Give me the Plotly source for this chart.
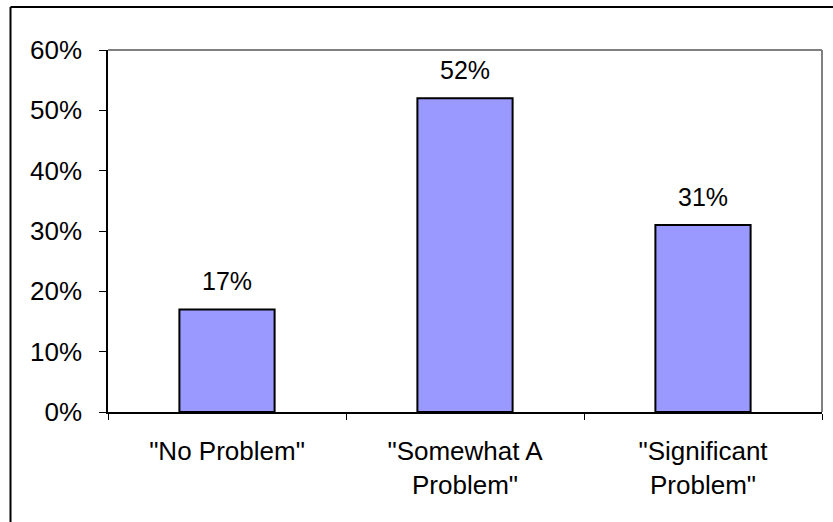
import plotly.graph_objects as go

categories = ['"No Problem"', '"Somewhat A<br>Problem"', '"Significant<br>Problem"']
values = [17, 52, 31]
y_ticks = [0, 10, 20, 30, 40, 50, 60]
y_tick_labels = ["0%", "10%", "20%", "30%", "40%", "50%", "60%"]

FONT = "Liberation Sans, Arial, sans-serif"
W, H = 833, 522
L, R, T, B = 108, 11, 50, 110
FS = 26

fig = go.Figure(
    go.Bar(
        x=categories,
        y=values,
        width=0.4,
        marker=dict(color="#9999FF", line=dict(color="#000000", width=2)),
        hoverinfo="skip",
    )
)

# value labels above each bar
for c, v in zip(categories, values):
    fig.add_annotation(
        x=c, y=v, text=f"{v}%", showarrow=False,
        yanchor="bottom", yshift=12,
        font=dict(family=FONT, size=FS - 1, color="#000000"),
    )

pw = W - L - R
ph = H - T - B


def px_x(px):
    return (px - L) / pw


def px_y(py):
    return (H - B - py) / ph


# grey frame on the top and right of the plot area
fig.add_shape(type="line", xref="paper", yref="paper", x0=0, x1=1, y0=1, y1=1,
              line=dict(color="#808080", width=2), layer="below")
fig.add_shape(type="line", xref="paper", yref="paper", x0=1, x1=1, y0=0, y1=1,
              line=dict(color="#808080", width=2), layer="below")

# outer chart border (top and left edges)
fig.add_shape(type="line", xref="paper", yref="paper",
              x0=px_x(10.5), x1=px_x(W + 5), y0=px_y(7), y1=px_y(7),
              line=dict(color="#000000", width=2))
fig.add_shape(type="line", xref="paper", yref="paper",
              x0=px_x(10.5), x1=px_x(10.5), y0=px_y(H + 5), y1=px_y(7),
              line=dict(color="#000000", width=2))

fig.update_layout(
    width=W, height=H,
    margin=dict(l=L, r=R, t=T, b=B, pad=0),
    paper_bgcolor="#FFFFFF",
    plot_bgcolor="#FFFFFF",
    showlegend=False,
    bargap=0.6,
    font=dict(family=FONT, size=FS, color="#000000"),
)

fig.update_xaxes(
    showline=True, linecolor="#000000", linewidth=1.5,
    ticks="outside", tickson="boundaries", ticklen=6, tickcolor="#000000",
    ticklabelstandoff=15,
    tickfont=dict(family=FONT, size=FS, color="#000000"),
    showgrid=False, zeroline=False, fixedrange=True,
)
fig.update_yaxes(
    range=[0, 60],
    tickvals=y_ticks, ticktext=y_tick_labels,
    showline=True, linecolor="#000000", linewidth=1.5,
    ticks="outside", ticklen=7, tickcolor="#000000",
    ticklabelstandoff=12,
    tickfont=dict(family=FONT, size=FS, color="#000000"),
    showgrid=False, zeroline=False, fixedrange=True,
)

fig.write_html("out.html")
